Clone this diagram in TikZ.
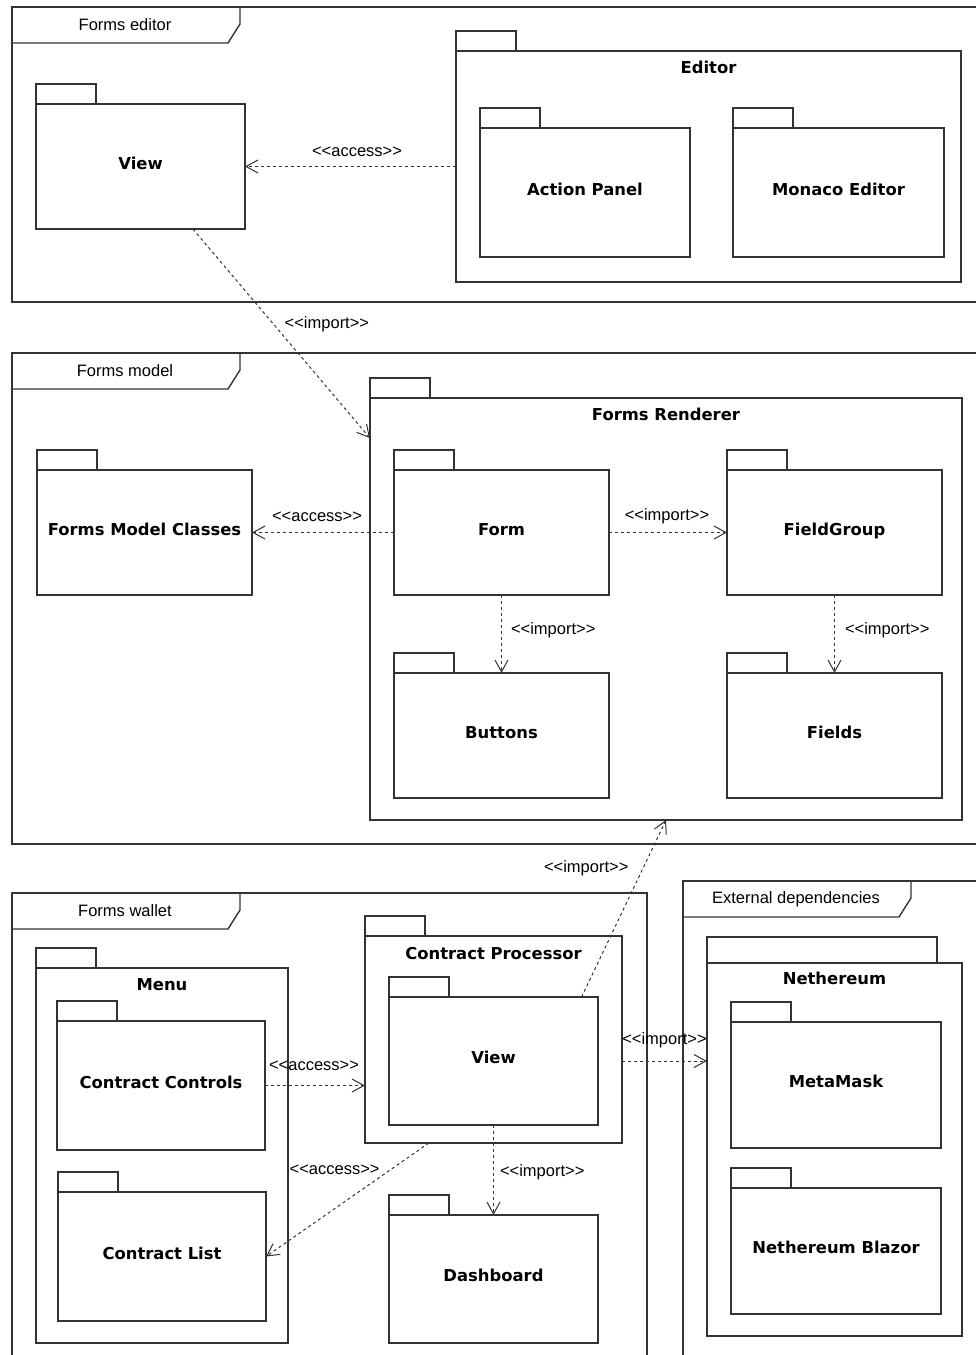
\documentclass[tikz,border=0pt]{standalone}
\usepackage{fontspec}
\usetikzlibrary{arrows.meta,calc}
\newfontfamily\umlsans{Liberation Sans}
\newfontfamily\umlbold{DejaVu Sans}
\definecolor{umlline}{RGB}{51,51,51}
\newcommand\stereotype[1]{<{}<#1>{}>}
\tikzset{
  pkg/.style={draw=umlline, line width=1.4pt, rectangle, anchor=north west,
    inner sep=0pt, outer sep=0pt, text height=12pt, text depth=7pt,
    font=\umlbold\bfseries\fontsize{16.4}{19}\selectfont},
  pkgtab/.style={draw=umlline, line width=1.4pt},
  pkgtitle/.style={anchor=base, inner sep=0pt,
    font=\umlbold\bfseries\fontsize{16.4}{19}\selectfont},
  frm/.style={draw=umlline, line width=1.4pt, rectangle, anchor=north west,
    inner sep=0pt, outer sep=0pt},
  frmtab/.style={draw=umlline, line width=1.4pt, line join=miter},
  frmlabel/.style={inner sep=0pt, font=\umlsans\fontsize{16.5}{19}\selectfont},
  dep/.style={draw=umlline, line width=1pt, dash pattern=on 3pt off 3pt,
    -{Straight Barb[length=12pt,width=13pt,line width=1pt]}},
  stereo/.style={inner sep=0pt, text=black, font=\umlsans\fontsize{16.5}{19}\selectfont},
}
\begin{document}
\begin{tikzpicture}[x=1pt,y=-1pt]
\useasboundingbox (0,0) rectangle (976,1355);
\clip (0,0) rectangle (976,1355);
\fill[white] (0,0) rectangle (976,1355);

% ---------- frames ----------
\node[frm, minimum width=1000pt, minimum height=295pt] (fedit) at (12,7) {};
\node[frm, minimum width=1000pt, minimum height=491pt] (fmodel) at (12,353) {};
\node[frm, minimum width=635pt, minimum height=520pt] (fwallet) at (12,893) {};
\node[frm, minimum width=400pt, minimum height=520pt] (fext) at (683,881) {};
\foreach \f/\t in {fedit/Forms editor, fmodel/Forms model, fwallet/Forms wallet, fext/External dependencies}{
  \draw[frmtab] ([yshift=-36pt]\f.north west) -- ++(216,0) -- ++(12,-19) -- ++(0,-17);
  \node[frmlabel] at ([xshift=113pt,yshift=-18pt]\f.north west) {\t};
}

% ---------- Forms editor ----------
\node[pkg, minimum width=209pt, minimum height=125pt] (view) at (36,104) {View};
\node[pkg, minimum width=505pt, minimum height=231pt] (editor) at (456,51) {};
\node[pkgtitle] at ([yshift=-22pt]editor.north) {Editor};
\node[pkg, minimum width=210pt, minimum height=129pt] (actp) at (480,128) {Action Panel};
\node[pkg, minimum width=211pt, minimum height=129pt] (monaco) at (733,128) {Monaco Editor};

% ---------- Forms model ----------
\node[pkg, minimum width=215pt, minimum height=125pt] (fmc) at (37,470) {Forms Model Classes};
\node[pkg, minimum width=592pt, minimum height=422pt] (renderer) at (370,398) {};
\node[pkgtitle] at ([yshift=-22pt]renderer.north) {Forms Renderer};
\node[pkg, minimum width=215pt, minimum height=125pt] (form) at (394,470) {Form};
\node[pkg, minimum width=215pt, minimum height=125pt] (fgroup) at (727,470) {FieldGroup};
\node[pkg, minimum width=215pt, minimum height=125pt] (buttons) at (394,673) {Buttons};
\node[pkg, minimum width=215pt, minimum height=125pt] (fields) at (727,673) {Fields};

% ---------- Forms wallet ----------
\node[pkg, minimum width=252pt, minimum height=375pt] (menu) at (36,968) {};
\node[pkgtitle] at ([yshift=-22pt]menu.north) {Menu};
\node[pkg, minimum width=208pt, minimum height=129pt] (cc) at (57,1021) {Contract Controls};
\node[pkg, minimum width=208pt, minimum height=129pt] (cl) at (58,1192) {Contract List};
\node[pkg, minimum width=257pt, minimum height=207pt] (cp) at (365,936) {};
\node[pkgtitle] at ([yshift=-23pt]cp.north) {Contract Processor};
\node[pkg, minimum width=209pt, minimum height=128pt] (cpview) at (389,997) {View};
\node[pkg, minimum width=209pt, minimum height=128pt] (dash) at (389,1215) {Dashboard};

% ---------- External dependencies ----------
\node[pkg, minimum width=255pt, minimum height=373pt] (neth) at (707,963) {};
\node[pkgtitle] at ([yshift=-21pt]neth.north) {Nethereum};
\node[pkg, minimum width=210pt, minimum height=126pt] (mm) at (731,1022) {MetaMask};
\node[pkg, minimum width=210pt, minimum height=126pt] (nb) at (731,1188) {Nethereum Blazor};

% package tabs
\foreach \n in {view,editor,actp,monaco,fmc,renderer,form,fgroup,buttons,fields,
                menu,cc,cl,cp,cpview,dash,mm,nb}
  \draw[pkgtab] (\n.north west) rectangle ++(60,-20);
\draw[pkgtab] (neth.north west) rectangle ++(230,-26);

% ---------- dependencies ----------
\draw[dep] (editor.west) -- (view.east)
  node[stereo, midway, anchor=base, xshift=6.5pt, yshift=10pt] {\stereotype{access}};
\draw[dep] (view.-50) -- (renderer.150.3)
  node[stereo, pos=0.476, anchor=base west, xshift=7pt] {\stereotype{import}};
\draw[dep] (form.west) -- (fmc.east)
  node[stereo, midway, anchor=base, xshift=-6pt, yshift=11.5pt] {\stereotype{access}};
\draw[dep] (form.east) -- (fgroup.west)
  node[stereo, midway, anchor=base, xshift=-1pt, yshift=12.5pt] {\stereotype{import}};
\draw[dep] (form.south) -- (buttons.north)
  node[stereo, midway, anchor=base west, xshift=9pt] {\stereotype{import}};
\draw[dep] (fgroup.south) -- (fields.north)
  node[stereo, midway, anchor=base west, xshift=10pt] {\stereotype{import}};
\draw[dep] (cc.east) -- (cc.east -| cp.west)
  node[stereo, midway, anchor=base, xshift=-1pt, yshift=15.5pt] {\stereotype{access}};
\draw[dep] (cp.238.5) -- (cl.east)
  node[stereo, pos=0.281, anchor=base east, xshift=-3pt] {\stereotype{access}};
\draw[dep] (cpview.south) -- (dash.north)
  node[stereo, midway, anchor=base west, xshift=6pt, yshift=-6.5pt] {\stereotype{import}};
\draw[dep] (cpview.36.5) -- (renderer.south)
  node[stereo, pos=0.703, anchor=base east, xshift=-12pt] {\stereotype{import}};
\draw[dep] (cp.east |- cpview.center) -- (neth.west |- cpview.center)
  node[stereo, midway, anchor=base, yshift=17pt] {\stereotype{import}};
\end{tikzpicture}
\end{document}
